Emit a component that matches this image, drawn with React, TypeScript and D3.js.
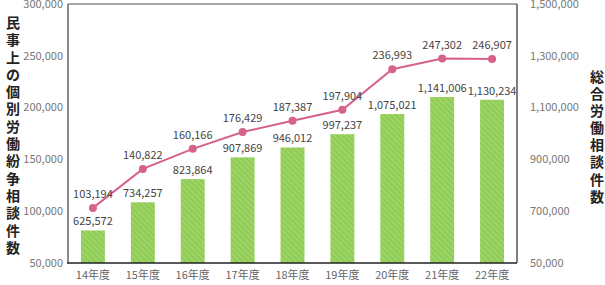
import React from "react";
import * as d3 from "d3";

const categories = ["14年度", "15年度", "16年度", "17年度", "18年度", "19年度", "20年度", "21年度", "22年度"];
const totalConsultations = [625572, 734257, 823864, 907869, 946012, 997237, 1075021, 1141006, 1130234];
const civilDisputes = [103194, 140822, 160166, 176429, 187387, 197904, 236993, 247302, 246907];
const leftTicks = [50000, 100000, 150000, 200000, 250000, 300000];
const rightTicks = [500000, 700000, 900000, 1100000, 1300000, 1500000];
const rightTickLabels = ["50,000", "700,000", "900,000", "1,100,000", "1,300,000", "1,500,000"];
const leftTitle = "民事上の個別労働紛争相談件数";
const rightTitle = "総合労働相談件数";

const W = 605, H = 285;
const m = { left: 68, right: 517, top: 4, bottom: 263 };
const font = "'Noto Sans CJK JP', 'Noto Sans', sans-serif";
const fmt = d3.format(",");

export default function App() {
  const x = d3.scaleBand().domain(categories).range([m.left, m.right]).paddingInner(0.52).paddingOuter(0.26);
  const yL = d3.scaleLinear().domain([50000, 300000]).range([m.bottom, m.top]);
  const yR = d3.scaleLinear().domain([500000, 1500000]).range([m.bottom, m.top]);
  const cx = (c: string) => (x(c) as number) + x.bandwidth() / 2;
  const line = d3.line<number>().x((_, i) => cx(categories[i])).y((d) => yL(d));

  return (
    <svg width={W} height={H} style={{ position: "absolute", left: 0, top: 0, background: "#fff" }} fontFamily={font}>
      <defs>
        <pattern id="stripe" patternUnits="userSpaceOnUse" width="4" height="4" patternTransform="rotate(-45)">
          <rect width="4" height="4" fill="#92cd57" />
          <rect width="1" height="4" fill="#a4d873" />
        </pattern>
      </defs>
      {/* frame */}
      <line x1={m.left} x2={m.right} y1={m.top} y2={m.top} stroke="#8a8a8a" strokeWidth={1.5} />
      <line x1={m.right} x2={m.right} y1={m.top} y2={m.bottom} stroke="#555" strokeWidth={1.5} />
      <line x1={m.left} x2={m.left} y1={m.top} y2={m.bottom} stroke="#8a8a8a" strokeWidth={2} />
      {/* bars */}
      {totalConsultations.map((v, i) => (
        <rect key={i} x={x(categories[i])} y={yR(v)} width={x.bandwidth()} height={m.bottom - yR(v)} fill="url(#stripe)" />
      ))}
      <line x1={m.left - 1} x2={m.right} y1={m.bottom} y2={m.bottom} stroke="#222" strokeWidth={1.5} />
      {/* bar labels */}
      {totalConsultations.map((v, i) => (
        <text key={i} x={cx(categories[i])} y={yR(v) - 5} textAnchor="middle" fontSize={11} fill="#444">{fmt(v)}</text>
      ))}
      {/* line */}
      <path d={line(civilDisputes) || ""} fill="none" stroke="#d6628c" strokeWidth={2} />
      {civilDisputes.map((v, i) => (
        <circle key={i} cx={cx(categories[i])} cy={yL(v)} r={4} fill="#d6628c" />
      ))}
      {civilDisputes.map((v, i) => (
        <text key={i} x={cx(categories[i])} y={yL(v) - 10} textAnchor="middle" fontSize={11} fill="#444">{fmt(v)}</text>
      ))}
      {/* left ticks */}
      {leftTicks.map((t) => (
        <text key={t} x={m.left - 5} y={yL(t)} dy="0.35em" textAnchor="end" fontSize={11} fill="#777">{fmt(t)}</text>
      ))}
      {/* right ticks */}
      {rightTicks.map((t, i) => (
        <text key={t} x={530} y={yR(t)} dy="0.35em" textAnchor="start" fontSize={11} fill="#777">{rightTickLabels[i]}</text>
      ))}
      {/* x labels */}
      {categories.map((c) => (
        <text key={c} x={cx(c)} y={279} textAnchor="middle" fontSize={11} fill="#666">{c}</text>
      ))}
      {/* titles */}
      {Array.from(leftTitle).map((ch, i) => (
        <text key={i} x={13} y={23 + i * 17.3} dy="0.35em" textAnchor="middle" fontSize={14} fontWeight="bold" fill="#222">{ch}</text>
      ))}
      {Array.from(rightTitle).map((ch, i) => (
        <text key={i} x={597} y={77 + i * 17.1} dy="0.35em" textAnchor="middle" fontSize={14} fontWeight="bold" fill="#222">{ch}</text>
      ))}
    </svg>
  );
}
